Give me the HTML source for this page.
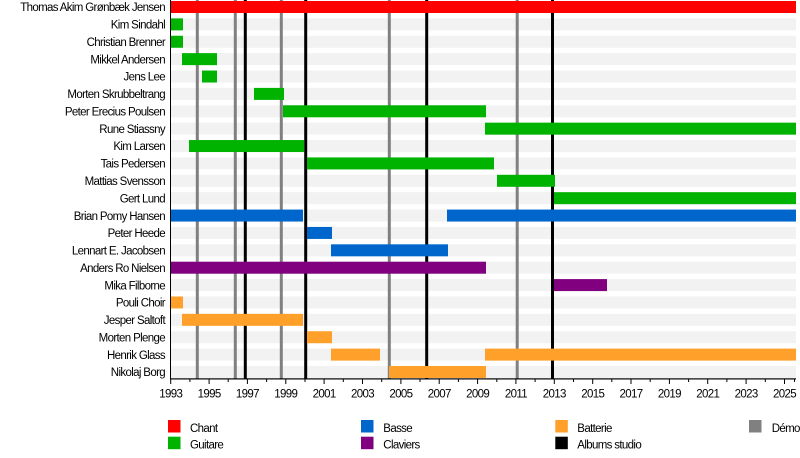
<!DOCTYPE html>
<html><head><meta charset="utf-8"><style>
html,body{margin:0;padding:0;background:#fff;}
svg{display:block;}
text{font-family:"Liberation Sans",Arial,sans-serif;fill:#000;}
.lb{font-size:11.5px;letter-spacing:-0.65px;}
</style></head><body>
<svg width="800" height="458" viewBox="0 0 800 458" xmlns="http://www.w3.org/2000/svg">
<rect width="800" height="458" fill="#fff"/>
<!-- background bands -->
<g fill="#f2f2f2">
<rect x="171" y="1" width="625" height="12"/>
<rect x="171" y="18.38" width="625" height="12"/>
<rect x="171" y="35.76" width="625" height="12"/>
<rect x="171" y="53.14" width="625" height="12"/>
<rect x="171" y="70.52" width="625" height="12"/>
<rect x="171" y="87.9" width="625" height="12"/>
<rect x="171" y="105.28" width="625" height="12"/>
<rect x="171" y="122.66" width="625" height="12"/>
<rect x="171" y="140.04" width="625" height="12"/>
<rect x="171" y="157.42" width="625" height="12"/>
<rect x="171" y="174.8" width="625" height="12"/>
<rect x="171" y="192.18" width="625" height="12"/>
<rect x="171" y="209.56" width="625" height="12"/>
<rect x="171" y="226.94" width="625" height="12"/>
<rect x="171" y="244.32" width="625" height="12"/>
<rect x="171" y="261.7" width="625" height="12"/>
<rect x="171" y="279.08" width="625" height="12"/>
<rect x="171" y="296.46" width="625" height="12"/>
<rect x="171" y="313.84" width="625" height="12"/>
<rect x="171" y="331.22" width="625" height="12"/>
<rect x="171" y="348.6" width="625" height="12"/>
<rect x="171" y="365.98" width="625" height="12"/>
</g>
<!-- vertical lines -->
<g fill="#808080">
<rect x="195.8" y="0" width="3" height="379"/>
<rect x="233.8" y="0" width="3" height="379"/>
<rect x="279.8" y="0" width="3" height="379"/>
<rect x="387.8" y="0" width="3" height="379"/>
<rect x="515.7" y="0" width="3" height="379"/>
</g>
<g fill="#000">
<rect x="243.8" y="0" width="3" height="379"/>
<rect x="304.2" y="0" width="3" height="379"/>
<rect x="425.2" y="0" width="3" height="379"/>
<rect x="551" y="0" width="3" height="379"/>
</g>
<!-- bars -->
<rect x="171" y="1" width="625" height="12" fill="#ff0000"/>
<g fill="#00b300">
<rect x="171" y="18.38" width="12" height="12"/>
<rect x="171" y="35.76" width="12" height="12"/>
<rect x="182" y="53.14" width="35" height="12"/>
<rect x="202" y="70.52" width="15" height="12"/>
<rect x="254" y="87.9" width="30" height="12"/>
<rect x="283" y="105.28" width="203" height="12"/>
<rect x="485" y="122.66" width="311" height="12"/>
<rect x="189" y="140.04" width="115" height="12"/>
<rect x="307" y="157.42" width="187" height="12"/>
<rect x="497" y="174.8" width="58" height="12"/>
<rect x="554" y="192.18" width="242" height="12"/>
</g>
<g fill="#0066cc">
<rect x="171" y="209.56" width="132" height="12"/>
<rect x="447" y="209.56" width="349" height="12"/>
<rect x="307" y="226.94" width="25" height="12"/>
<rect x="331" y="244.32" width="117" height="12"/>
</g>
<g fill="#800080">
<rect x="171" y="261.7" width="315" height="12"/>
<rect x="554" y="279.08" width="53" height="12"/>
</g>
<g fill="#ffa02a">
<rect x="171" y="296.46" width="12" height="12"/>
<rect x="182" y="313.84" width="121" height="12"/>
<rect x="307" y="331.22" width="25" height="12"/>
<rect x="331" y="348.6" width="49" height="12"/>
<rect x="485" y="348.6" width="311" height="12"/>
<rect x="389" y="365.98" width="97" height="12"/>
</g>
<!-- axes -->
<rect x="170" y="0" width="1" height="379.5" fill="#000"/>
<rect x="170" y="378.3" width="626" height="1.2" fill="#000"/>
<g fill="#000">
<rect x="170.2" y="379" width="1" height="5"/>
<rect x="189.4" y="379" width="1" height="3"/>
<rect x="208.6" y="379" width="1" height="5"/>
<rect x="227.7" y="379" width="1" height="3"/>
<rect x="246.9" y="379" width="1" height="5"/>
<rect x="266.1" y="379" width="1" height="3"/>
<rect x="285.3" y="379" width="1" height="5"/>
<rect x="304.5" y="379" width="1" height="3"/>
<rect x="323.6" y="379" width="1" height="5"/>
<rect x="342.8" y="379" width="1" height="3"/>
<rect x="362" y="379" width="1" height="5"/>
<rect x="381.2" y="379" width="1" height="3"/>
<rect x="400.4" y="379" width="1" height="5"/>
<rect x="419.5" y="379" width="1" height="3"/>
<rect x="438.7" y="379" width="1" height="5"/>
<rect x="457.9" y="379" width="1" height="3"/>
<rect x="477.1" y="379" width="1" height="5"/>
<rect x="496.3" y="379" width="1" height="3"/>
<rect x="515.4" y="379" width="1" height="5"/>
<rect x="534.6" y="379" width="1" height="3"/>
<rect x="553.8" y="379" width="1" height="5"/>
<rect x="573" y="379" width="1" height="3"/>
<rect x="592.2" y="379" width="1" height="5"/>
<rect x="611.3" y="379" width="1" height="3"/>
<rect x="630.5" y="379" width="1" height="5"/>
<rect x="649.7" y="379" width="1" height="3"/>
<rect x="668.9" y="379" width="1" height="5"/>
<rect x="688.1" y="379" width="1" height="3"/>
<rect x="707.2" y="379" width="1" height="5"/>
<rect x="726.4" y="379" width="1" height="3"/>
<rect x="745.6" y="379" width="1" height="5"/>
<rect x="764.8" y="379" width="1" height="3"/>
<rect x="784" y="379" width="1" height="5"/>
<rect x="794" y="379" width="1" height="3"/>
</g>
<g class="lb" text-anchor="middle">
<text x="170.7" y="397.3">1993</text>
<text x="209.1" y="397.3">1995</text>
<text x="247.4" y="397.3">1997</text>
<text x="285.8" y="397.3">1999</text>
<text x="324.1" y="397.3">2001</text>
<text x="362.5" y="397.3">2003</text>
<text x="400.9" y="397.3">2005</text>
<text x="439.2" y="397.3">2007</text>
<text x="477.6" y="397.3">2009</text>
<text x="515.9" y="397.3">2011</text>
<text x="554.3" y="397.3">2013</text>
<text x="592.7" y="397.3">2015</text>
<text x="631" y="397.3">2017</text>
<text x="669.4" y="397.3">2019</text>
<text x="707.7" y="397.3">2021</text>
<text x="746.1" y="397.3">2023</text>
<text x="784.5" y="397.3">2025</text>
</g>
<!-- row labels -->
<g class="lb" text-anchor="end">
<text x="165" y="11.2">Thomas Akim Grønbæk Jensen</text>
<text x="165" y="28.6">Kim Sindahl</text>
<text x="165" y="46">Christian Brenner</text>
<text x="165" y="63.3">Mikkel Andersen</text>
<text x="165" y="80.7">Jens Lee</text>
<text x="165" y="98.1">Morten Skrubbeltrang</text>
<text x="165" y="115.5">Peter Erecius Poulsen</text>
<text x="165" y="132.9">Rune Stiassny</text>
<text x="165" y="150.2">Kim Larsen</text>
<text x="165" y="167.6">Tais Pedersen</text>
<text x="165" y="185">Mattias Svensson</text>
<text x="165" y="202.4">Gert Lund</text>
<text x="165" y="219.8">Brian Pomy Hansen</text>
<text x="165" y="237.1">Peter Heede</text>
<text x="165" y="254.5">Lennart E. Jacobsen</text>
<text x="165" y="271.9">Anders Ro Nielsen</text>
<text x="165" y="289.3">Mika Filborne</text>
<text x="165" y="306.7">Pouli Choir</text>
<text x="165" y="324">Jesper Saltoft</text>
<text x="165" y="341.4">Morten Plenge</text>
<text x="165" y="358.8">Henrik Glass</text>
<text x="165" y="376.2">Nikolaj Borg</text>
</g>
<!-- legend -->
<rect x="168" y="420" width="12.5" height="12.5" fill="#ff0000"/>
<rect x="168" y="436.7" width="12.5" height="12.5" fill="#00b300"/>
<rect x="361" y="420" width="12.5" height="12.5" fill="#0066cc"/>
<rect x="361" y="436.7" width="12.5" height="12.5" fill="#800080"/>
<rect x="555.3" y="420" width="12.5" height="12.5" fill="#ffa02a"/>
<rect x="555.3" y="436.7" width="12.5" height="12.5" fill="#000"/>
<rect x="749" y="420" width="12.5" height="12.5" fill="#808080"/>
<g class="lb">
<text x="190" y="432">Chant</text>
<text x="190" y="448.7">Guitare</text>
<text x="383.3" y="432">Basse</text>
<text x="383.3" y="448.7">Claviers</text>
<text x="577.3" y="432">Batterie</text>
<text x="577.3" y="448.7">Albums studio</text>
<text x="771.7" y="432">Démos</text>
</g>
</svg>
</body></html>
